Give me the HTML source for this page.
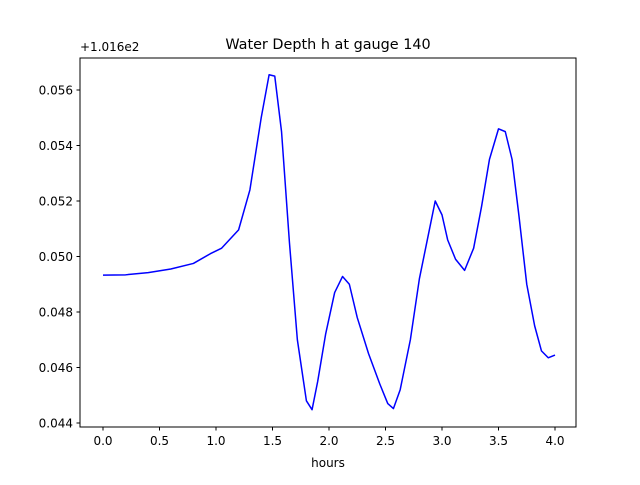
<!DOCTYPE html>
<html><head><meta charset="utf-8"><style>
body{margin:0;background:#fff;font-family:"Liberation Sans","DejaVu Sans",sans-serif}
svg text{font-family:"DejaVu Sans","Liberation Sans",sans-serif;fill:#000}
</style></head><body>
<svg id="c" width="640" height="480">
<rect width="640" height="480" fill="#fff"/>
<text x="328" y="49" font-size="14.4" text-anchor="middle">Water Depth h at gauge 140</text>
<text x="80" y="51" font-size="12">+1.016e2</text>
<text x="328" y="467" font-size="12" text-anchor="middle">hours</text>
<g id="ticks"></g>
<polyline id="line" fill="none" stroke="#0000ff" stroke-width="1.5" stroke-linejoin="round"/>
<rect x="80" y="58" width="496" height="369" fill="none" stroke="#000" stroke-width="1"/>
</svg>
<script>
const hours=[0,0.2,0.4,0.6,0.8,0.95,1.05,1.2,1.3,1.4,1.47,1.52,1.58,1.65,1.72,1.8,1.85,1.9,1.97,2.05,2.12,2.18,2.25,2.35,2.45,2.52,2.57,2.63,2.72,2.8,2.88,2.94,3.0,3.05,3.12,3.2,3.28,3.35,3.42,3.5,3.56,3.62,3.68,3.75,3.82,3.88,3.94,4.0];
const depth=[0.04933,0.04934,0.04942,0.04955,0.04975,0.05010,0.05030,0.05096,0.0524,0.0550,0.05655,0.0565,0.0545,0.0505,0.0470,0.0448,0.04448,0.0455,0.0472,0.0487,0.04928,0.0490,0.0478,0.0465,0.0454,0.0447,0.04452,0.0452,0.0470,0.0492,0.0508,0.0520,0.0515,0.0506,0.0499,0.0495,0.0503,0.0518,0.0535,0.0546,0.0545,0.0535,0.0515,0.0490,0.0475,0.0466,0.04635,0.04645];
const xTicks=[0,0.5,1,1.5,2,2.5,3,3.5,4];
const xTickLabels=["0.0","0.5","1.0","1.5","2.0","2.5","3.0","3.5","4.0"];
const yTicks=[0.044,0.046,0.048,0.050,0.052,0.054,0.056];
const yTickLabels=["0.044","0.046","0.048","0.050","0.052","0.054","0.056"];
const X=t=>103+t*113, Y=v=>423-(v-0.044)/0.002*55.5;
const ns="http://www.w3.org/2000/svg", g=document.getElementById('ticks');
function mk(tag,attrs,txt){const e=document.createElementNS(ns,tag);for(const k in attrs)e.setAttribute(k,attrs[k]);if(txt!=null)e.textContent=txt;g.appendChild(e);return e;}
xTicks.forEach((t,i)=>{
 const l=mk('line',{x1:X(t),x2:X(t),y1:427,y2:430.5,stroke:'#000'});
 
 
 const tx=mk('text',{x:X(t),y:445,'font-size':12,'text-anchor':'middle'},xTickLabels[i]);
 
 
});
yTicks.forEach((v,i)=>{
 const l=mk('line',{x1:76.5,x2:80,y1:Y(v),y2:Y(v),stroke:'#000'});
 
 
 const tx=mk('text',{x:73,y:Y(v)+4.5,'font-size':12,'text-anchor':'end'},yTickLabels[i]);
 
 
});
document.getElementById('line').setAttribute('points',hours.map((t,i)=>X(t)+','+Y(depth[i])).join(' '));
</script>
</body></html>
